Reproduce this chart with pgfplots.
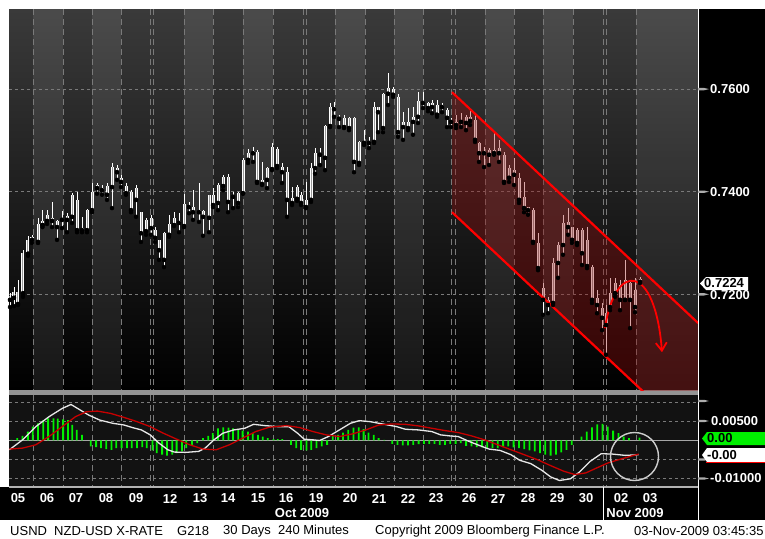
\documentclass[border=0pt]{standalone}
\usepackage{pgfplots}
\pgfplotsset{compat=1.18}
\usepackage{pgfplotstable}
\usepackage{fontspec}
\setmainfont{Liberation Sans}
\usetikzlibrary{arrows.meta}
\definecolor{bgtop}{HTML}{3A3A3A}
\definecolor{gridc}{HTML}{7A7A7A}
\definecolor{chan}{HTML}{9A0A0A}
\definecolor{macdbg}{HTML}{121212}
\definecolor{hgreen}{HTML}{00F000}
\definecolor{sigred}{HTML}{C80000}
\definecolor{sepgray}{HTML}{959595}
\definecolor{macdwhite}{HTML}{E8E8E8}
\definecolor{bodyin}{HTML}{9A9A9A}

% candles: x (chart position), high, low, body high, body low
\pgfplotstableread{
x hi lo bhi blo
10 0.7202 0.7175 0.7197 0.7189
14 0.7214 0.7177 0.7204 0.7193
18 0.7228 0.7179 0.7204 0.7181
23 0.7286 0.7195 0.7280 0.7202
28 0.7314 0.7275 0.7306 0.7279
32 0.7316 0.7300 0.7312 0.7306
38 0.7349 0.7300 0.7337 0.7302
42.5 0.7364 0.7331 0.7343 0.7335
47 0.7364 0.7337 0.7355 0.7343
52 0.7380 0.7331 0.7349 0.7343
57 0.7345 0.7306 0.7343 0.7331
62 0.7362 0.7329 0.7349 0.7345
67 0.7358 0.7321 0.7353 0.7345
72 0.7397 0.7339 0.7394 0.7351
77 0.7399 0.7321 0.7384 0.7325
82 0.7351 0.7321 0.7329 0.7325
87 0.7366 0.7321 0.7364 0.7325
92 0.7417 0.7360 0.7399 0.7364
97 0.7417 0.7396 0.7413 0.7407
102 0.7413 0.7394 0.7407 0.7403
107 0.7417 0.7384 0.7411 0.7394
112 0.7456 0.7368 0.7448 0.7409
117 0.7452 0.7423 0.7446 0.7438
121 0.7433 0.7409 0.7427 0.7419
126 0.7417 0.7394 0.7411 0.7397
131 0.7403 0.7360 0.7399 0.7364
136 0.7413 0.7351 0.7407 0.7384
141 0.7360 0.7302 0.7360 0.7319
146 0.7349 0.7316 0.7345 0.7323
151 0.7355 0.7316 0.7349 0.7329
155 0.7331 0.7302 0.7325 0.7310
159 0.7306 0.7267 0.7306 0.7286
164 0.7321 0.7253 0.7319 0.7267
169 0.7355 0.7312 0.7337 0.7316
174 0.7360 0.7333 0.7349 0.7335
179 0.7358 0.7321 0.7343 0.7339
184 0.7396 0.7331 0.7376 0.7333
189 0.7380 0.7358 0.7374 0.7370
193 0.7403 0.7345 0.7370 0.7360
199 0.7417 0.7341 0.7364 0.7360
203 0.7364 0.7314 0.7362 0.7351
209 0.7394 0.7321 0.7394 0.7349
213 0.7407 0.7370 0.7394 0.7374
218 0.7417 0.7364 0.7413 0.7378
223 0.7433 0.7403 0.7429 0.7411
228 0.7435 0.7360 0.7429 0.7380
233 0.7399 0.7368 0.7394 0.7390
238 0.7399 0.7370 0.7397 0.7378
243 0.7466 0.7396 0.7462 0.7397
248 0.7483 0.7456 0.7475 0.7462
253 0.7487 0.7458 0.7479 0.7475
257 0.7481 0.7417 0.7477 0.7419
262 0.7458 0.7413 0.7423 0.7415
267 0.7448 0.7407 0.7446 0.7423
272 0.7495 0.7442 0.7487 0.7444
277 0.7487 0.7446 0.7483 0.7450
282 0.7456 0.7417 0.7448 0.7438
287 0.7448 0.7351 0.7438 0.7384
292 0.7409 0.7374 0.7388 0.7378
297 0.7413 0.7382 0.7409 0.7386
301 0.7399 0.7374 0.7394 0.7378
306 0.7419 0.7368 0.7384 0.7370
311 0.7456 0.7380 0.7446 0.7384
315 0.7485 0.7435 0.7475 0.7446
320 0.7485 0.7452 0.7475 0.7472
325 0.7530 0.7442 0.7528 0.7466
330 0.7573 0.7526 0.7565 0.7528
334 0.7575 0.7546 0.7565 0.7561
339 0.7550 0.7526 0.7546 0.7542
344 0.7550 0.7524 0.7544 0.7526
349 0.7546 0.7520 0.7544 0.7524
354 0.7546 0.7438 0.7544 0.7458
359 0.7499 0.7452 0.7497 0.7456
364 0.7520 0.7491 0.7497 0.7495
369 0.7507 0.7485 0.7499 0.7495
374 0.7575 0.7495 0.7565 0.7497
378 0.7565 0.7516 0.7565 0.7555
383 0.7592 0.7516 0.7591 0.7524
388 0.7631 0.7569 0.7602 0.7591
393 0.7604 0.7585 0.7600 0.7589
398 0.7591 0.7507 0.7585 0.7516
403 0.7555 0.7501 0.7536 0.7526
408 0.7563 0.7520 0.7536 0.7524
413 0.7565 0.7511 0.7546 0.7536
418 0.7594 0.7534 0.7577 0.7546
423 0.7594 0.7563 0.7577 0.7573
428 0.7575 0.7557 0.7573 0.7563
432 0.7579 0.7553 0.7573 0.7565
437 0.7579 0.7546 0.7569 0.7550
442 0.7573 0.7555 0.7569 0.7565
447 0.7563 0.7526 0.7559 0.7544
451 0.7544 0.7526 0.7540 0.7536
456 0.7550 0.7524 0.7536 0.7530
461 0.7554 0.7526 0.7538 0.7536
466 0.7550 0.7520 0.7546 0.7534
470 0.7559 0.7530 0.7546 0.7538
475 0.7554 0.7497 0.7540 0.7501
479 0.7497 0.7458 0.7495 0.7475
484 0.7487 0.7448 0.7479 0.7475
489 0.7485 0.7452 0.7481 0.7472
494 0.7514 0.7472 0.7481 0.7475
499 0.7501 0.7458 0.7485 0.7475
504 0.7477 0.7417 0.7472 0.7419
509 0.7452 0.7419 0.7446 0.7427
514 0.7466 0.7413 0.7442 0.7433
519 0.7436 0.7378 0.7427 0.7384
524 0.7419 0.7360 0.7390 0.7368
528 0.7370 0.7355 0.7370 0.7364
533 0.7368 0.7300 0.7364 0.7302
538 0.7319 0.7247 0.7300 0.7251
543 0.7222 0.7160 0.7212 0.7189
548 0.7195 0.7163 0.7189 0.7179
553 0.7271 0.7179 0.7261 0.7183
558 0.7302 0.7232 0.7296 0.7261
563 0.7355 0.7277 0.7339 0.7296
568 0.7368 0.7316 0.7341 0.7331
572 0.7331 0.7300 0.7331 0.7306
577 0.7329 0.7296 0.7325 0.7300
582 0.7329 0.7257 0.7325 0.7280
587 0.7331 0.7251 0.7306 0.7255
592 0.7257 0.7183 0.7253 0.7189
597 0.7208 0.7163 0.7193 0.7179
602 0.7183 0.7130 0.7173 0.7154
606 0.7179 0.7082 0.7163 0.7140
610 0.7232 0.7169 0.7202 0.7175
615 0.7232 0.7195 0.7222 0.7202
620 0.7228 0.7169 0.7218 0.7189
625 0.7267 0.7189 0.7228 0.7189
630 0.7224 0.7134 0.7222 0.7189
635 0.7232 0.7165 0.7208 0.7175
640 0.7234 0.7222 0.7230 0.7224
}\candles

\pgfplotstableread{
x v
9.4 -0.00244
22.6 0.00017
35.8 0.00365
49 0.00626
62.2 0.00844
71 0.00948
77.6 0.00844
88.6 0.00670
99.6 0.00539
112.8 0.00452
123.8 0.00409
132.6 0.00339
141.4 0.00278
150.2 0.00148
159 -0.00070
167.8 -0.00244
174.4 -0.00305
185.4 -0.00313
198.6 -0.00287
205.2 -0.00200
214 0.00017
222.8 0.00191
233.8 0.00278
244.8 0.00322
253.6 0.00426
264.6 0.00392
277.8 0.00365
288.8 0.00365
297.6 0.00191
304.2 0.00035
313 0.00017
319.6 0.00000
328.4 0.00104
339.4 0.00278
350.4 0.00452
359.2 0.00522
370.2 0.00496
379 0.00452
387.8 0.00409
396.6 0.00365
405.4 0.00296
418.6 0.00278
431.8 0.00235
440.6 0.00148
449.4 0.00122
458.2 0.00104
469.2 -0.00026
480.2 -0.00139
489 -0.00226
500 -0.00261
511 -0.00374
519.8 -0.00522
530.8 -0.00609
541.8 -0.00783
550.6 -0.00957
559.4 -0.01053
570.4 -0.01009
579.2 -0.00835
590.2 -0.00548
601.2 -0.00348
612.2 -0.00357
625.4 -0.00392
638.6 -0.00374
}\macdline

\pgfplotstableread{
x v
9.4 -0.00226
22.6 -0.00200
35.8 -0.00113
49 0.00104
62.2 0.00365
75.4 0.00626
86.4 0.00757
97.4 0.00774
110.6 0.00713
123.8 0.00609
137 0.00496
150.2 0.00365
163.4 0.00191
176.6 0.00035
189.8 -0.00113
203 -0.00226
216.2 -0.00244
229.4 -0.00113
242.6 0.00061
255.8 0.00235
269 0.00348
286.6 0.00392
299.8 0.00339
313 0.00235
326.2 0.00148
339.4 0.00104
352.6 0.00174
365.8 0.00278
379 0.00409
392.2 0.00435
405.4 0.00426
418.6 0.00383
431.8 0.00322
445 0.00261
458.2 0.00209
471.4 0.00122
484.6 0.00017
497.8 -0.00113
511 -0.00244
524.2 -0.00374
537.4 -0.00505
550.6 -0.00661
563.8 -0.00809
574.8 -0.00896
585.8 -0.00853
596.8 -0.00722
607.8 -0.00592
621 -0.00487
638.6 -0.00357
}\signalline

\pgfplotstableread{
x v
11.6 0.00017
17.3 0.00061
22.6 0.00122
27.9 0.00235
32.7 0.00365
38 0.00452
43.3 0.00539
48.1 0.00583
53.4 0.00583
57.8 0.00574
63.1 0.00557
67.9 0.00539
72.3 0.00409
76.7 0.00278
82 0.00148
90.8 -0.00157
96.1 -0.00174
100.9 -0.00200
106.2 -0.00226
111.5 -0.00244
116.3 -0.00200
121.6 -0.00200
126.9 -0.00200
131.7 -0.00200
137 -0.00200
142.3 -0.00174
146.7 -0.00200
152.4 -0.00261
156.8 -0.00331
162.1 -0.00374
166.9 -0.00400
172.2 -0.00374
176.6 -0.00331
181.9 -0.00287
186.3 -0.00200
192 -0.00139
197.3 -0.00070
203 0.00061
208.3 0.00122
212.7 0.00191
218 0.00322
223.2 0.00348
228.5 0.00339
232.9 0.00322
238.2 0.00278
242.6 0.00261
247.9 0.00235
252.7 0.00191
258 0.00148
262.8 0.00104
267.7 0.00061
273.4 0.00035
277.8 0.00035
282.2 0.00035
291 -0.00113
296.3 -0.00200
301.1 -0.00244
306.4 -0.00261
311.2 -0.00244
316.5 -0.00200
321.8 -0.00157
327.1 -0.00113
332.8 0.00122
338.1 0.00148
342.9 0.00209
348.2 0.00278
353.5 0.00339
358.8 0.00348
363.6 0.00296
368.4 0.00209
373.7 0.00148
378.6 0.00061
384.3 0.00017
392.2 -0.00087
397.5 -0.00113
402.8 -0.00131
408 -0.00131
413.3 -0.00113
418.6 -0.00096
423.9 -0.00087
429.2 -0.00087
434.4 -0.00087
439.7 -0.00113
445 -0.00113
450.3 -0.00087
455.6 -0.00087
460.8 -0.00070
466.1 -0.00139
471.4 -0.00157
476.7 -0.00174
481.9 -0.00183
487.2 -0.00200
492.5 -0.00200
497.8 -0.00200
503.1 -0.00174
508.3 -0.00157
513.6 -0.00183
518.9 -0.00200
524.2 -0.00226
529.5 -0.00261
534.8 -0.00287
540 -0.00331
545.3 -0.00374
550.6 -0.00400
555.9 -0.00374
561.2 -0.00313
566.4 -0.00244
571.7 -0.00113
581.4 0.00104
586.7 0.00235
592 0.00348
597.2 0.00426
602.5 0.00435
607.8 0.00365
613.1 0.00261
618.4 0.00191
623.6 0.00104
628.9 0.00061
639.5 0.00078
}\histo

\begin{document}
\begin{tikzpicture}[x=1pt,y=-1pt,font=\fontsize{13}{13}\selectfont]
\path[use as bounding box] (0,0) rectangle (765,538);
\fill[white] (0,0) rectangle (765,538);
\fill[black] (698,9) rectangle (765,520);
\fill[black] (0,487) rectangle (698,520);
% main panel background
\shade[top color=bgtop, bottom color=black] (9,9) rectangle (698,390);
\foreach \a/\b in {33/63,92/121,184/213,243/273,335/365,394/423,485/514,543/573,636/698}
  \fill[white,opacity=0.085] (\a,9) rectangle (\b,390);
\fill[sepgray] (9,390) rectangle (698,395);
\fill[macdbg] (9,395) rectangle (698,487);
\foreach \v in {33,63,92,121,150.7,153.5,184,213,243,273,303.3,306,335,365,394,423,451.7,455,485,514,543,573,603.3,606.5,636}{
  \draw[gridc, line width=0.9pt, dash pattern=on 6pt off 4pt] (\v,9) -- (\v,390);
  \draw[gridc, line width=0.9pt, dash pattern=on 6pt off 4pt] (\v,395) -- (\v,487);
}

% ---------------- price panel
\begin{axis}[at={(9pt,-390pt)}, anchor=south west, scale only axis,
  width=689pt, height=381pt, xmin=9, xmax=698, ymin=0.70133, ymax=0.77562,
  axis line style={draw=none}, ticks=none]
\pgfplotsinvokeforeach{0.76,0.74,0.72}{
  \draw[gridc, line width=0.9pt, dash pattern=on 3pt off 3pt] (axis cs:9,#1) -- (axis cs:698,#1);
}
% wicks
\addplot[only marks, mark=none, error bars/.cd, y dir=plus, y explicit, error mark=none,
  error bar style={line width=0.9pt, draw=white}]
  table[x=x, y=lo, y error plus expr=\thisrow{hi}-\thisrow{lo}] \candles;
% bodies (outlined)
\addplot[only marks, mark=none, error bars/.cd, y dir=plus, y explicit, error mark=none,
  error bar style={line width=3pt, draw=white}]
  table[x=x, y=blo, y error plus expr=\thisrow{bhi}-\thisrow{blo}] \candles;
\addplot[only marks, mark=none, error bars/.cd, y dir=plus, y explicit, error mark=none,
  error bar style={line width=1pt, draw=bodyin}]
  table[x=x, y=blo, y error plus expr=\thisrow{bhi}-\thisrow{blo}] \candles;
% channel
\fill[chan, opacity=0.35] (axis cs:452,0.7594) -- (axis cs:698,0.7144) -- (axis cs:698,0.6910) -- (axis cs:452,0.7360) -- cycle;
\draw[red, line width=2.2pt] (axis cs:452,0.7594) -- (axis cs:698,0.7144);
\draw[red, line width=2.2pt] (axis cs:452,0.7360) -- (axis cs:698,0.6910);
\draw[red, line width=1.8pt, -{Straight Barb[length=8pt,width=11pt]}]
  (axis cs:605,0.7134) .. controls (axis cs:615,0.7265) and (axis cs:655,0.7262) .. (axis cs:662,0.7087);
\end{axis}

% ---------------- MACD panel
\begin{axis}[at={(9pt,-487pt)}, anchor=south west, scale only axis,
  width=689pt, height=92pt, xmin=9, xmax=698, ymin=-0.01224, ymax=0.01197,
  axis line style={draw=none}, ticks=none]
\pgfplotsinvokeforeach{0.01,0.005,-0.005,-0.01}{
  \draw[gridc, line width=0.9pt, dash pattern=on 3pt off 3pt] (axis cs:9,#1) -- (axis cs:698,#1);
}
\draw[gray!70, line width=1pt] (axis cs:9,0) -- (axis cs:698,0);
\addplot[ybar, bar width=1.8pt, fill=hgreen, draw=none] table[x=x, y=v] \histo;
\addplot[macdwhite, line width=1.3pt] table[x=x, y=v] \macdline;
\addplot[sigred, line width=1.3pt] table[x=x, y=v] \signalline;
\end{axis}

% frame lines
\draw[gray!60, line width=1.2pt] (9,487) -- (698,487);
\draw[white, line width=1pt] (698,9) -- (698,520);
\draw[white, line width=1pt] (603.3,487) -- (603.3,520);

% right axis markers
\foreach \t in {89.1,191.7,294.3,401,421,459.5,478.5}
  \fill[gray!65] (698,\t-1.2) -- (704,\t-1.2) -- (709,\t) -- (704,\t+1.2) -- (698,\t+1.2) -- cycle;
\begin{scope}[every node/.style={anchor=west, inner sep=0pt, font=\fontsize{13}{13}\selectfont\bfseries}]
\node[text=white] at (710,89.1) {0.7600};
\node[text=white] at (710,191.7) {0.7400};
\node[text=white] at (710,295) {0.7200};
\fill[white] (700,283.5) -- (706,277) -- (748,277) -- (748,290) -- (706,290) -- cycle;
\node[text=black] at (704,283.5) {0.7224};
\node[text=white] at (711,421) {0.00500};
\node[text=white] at (710,478.5) {-0.01000};
\fill[hgreen] (702,438.5) -- (707,432) -- (765,432) -- (765,445) -- (707,445) -- cycle;
\node[text=black] at (707,438.5) {0.00};
\fill[white] (702,455) -- (707,448) -- (765,448) -- (765,462) -- (707,462) -- cycle;
\draw[red, line width=1.2pt] (706,462.6) -- (765,462.6);
\node[text=black] at (707,455) {-0.00};
\end{scope}

% circle annotation
\draw[gray!40, line width=1.4pt] (634.5,456.5) circle (24pt);

% date labels
\begin{scope}[every node/.style={text=white, inner sep=0pt, font=\fontsize{13}{13}\selectfont\bfseries}]
\foreach \x/\l in {18/05,47/06,76/07,106/08,136/09,170/12,200/13,228/14,258/15,286/16,316/19,350/20,379/21,408/22,436/23,469/26,498/27,528/28,557/29,586/30,621/02,650/03}
  \node at (\x,498.5) {\l};
\node at (302,513) {Oct 2009};
\node at (635,513) {Nov 2009};
\end{scope}

% status bar
\node[anchor=west, inner sep=0pt, text=black] at (10,531.5) {USND\ \ NZD-USD X-RATE};
\node[anchor=west, inner sep=0pt, text=black] at (177,531.5) {G218};
\node[anchor=west, inner sep=0pt, text=black] at (223,531.5) {30 Days\ \ 240 Minutes};
\node[anchor=west, inner sep=0pt, text=black] at (375,531.5) {Copyright 2009 Bloomberg Finance L.P.};
\node[anchor=west, inner sep=0pt, text=black] at (634,531.5) {03-Nov-2009 03:45:35};
\end{tikzpicture}
\end{document}
